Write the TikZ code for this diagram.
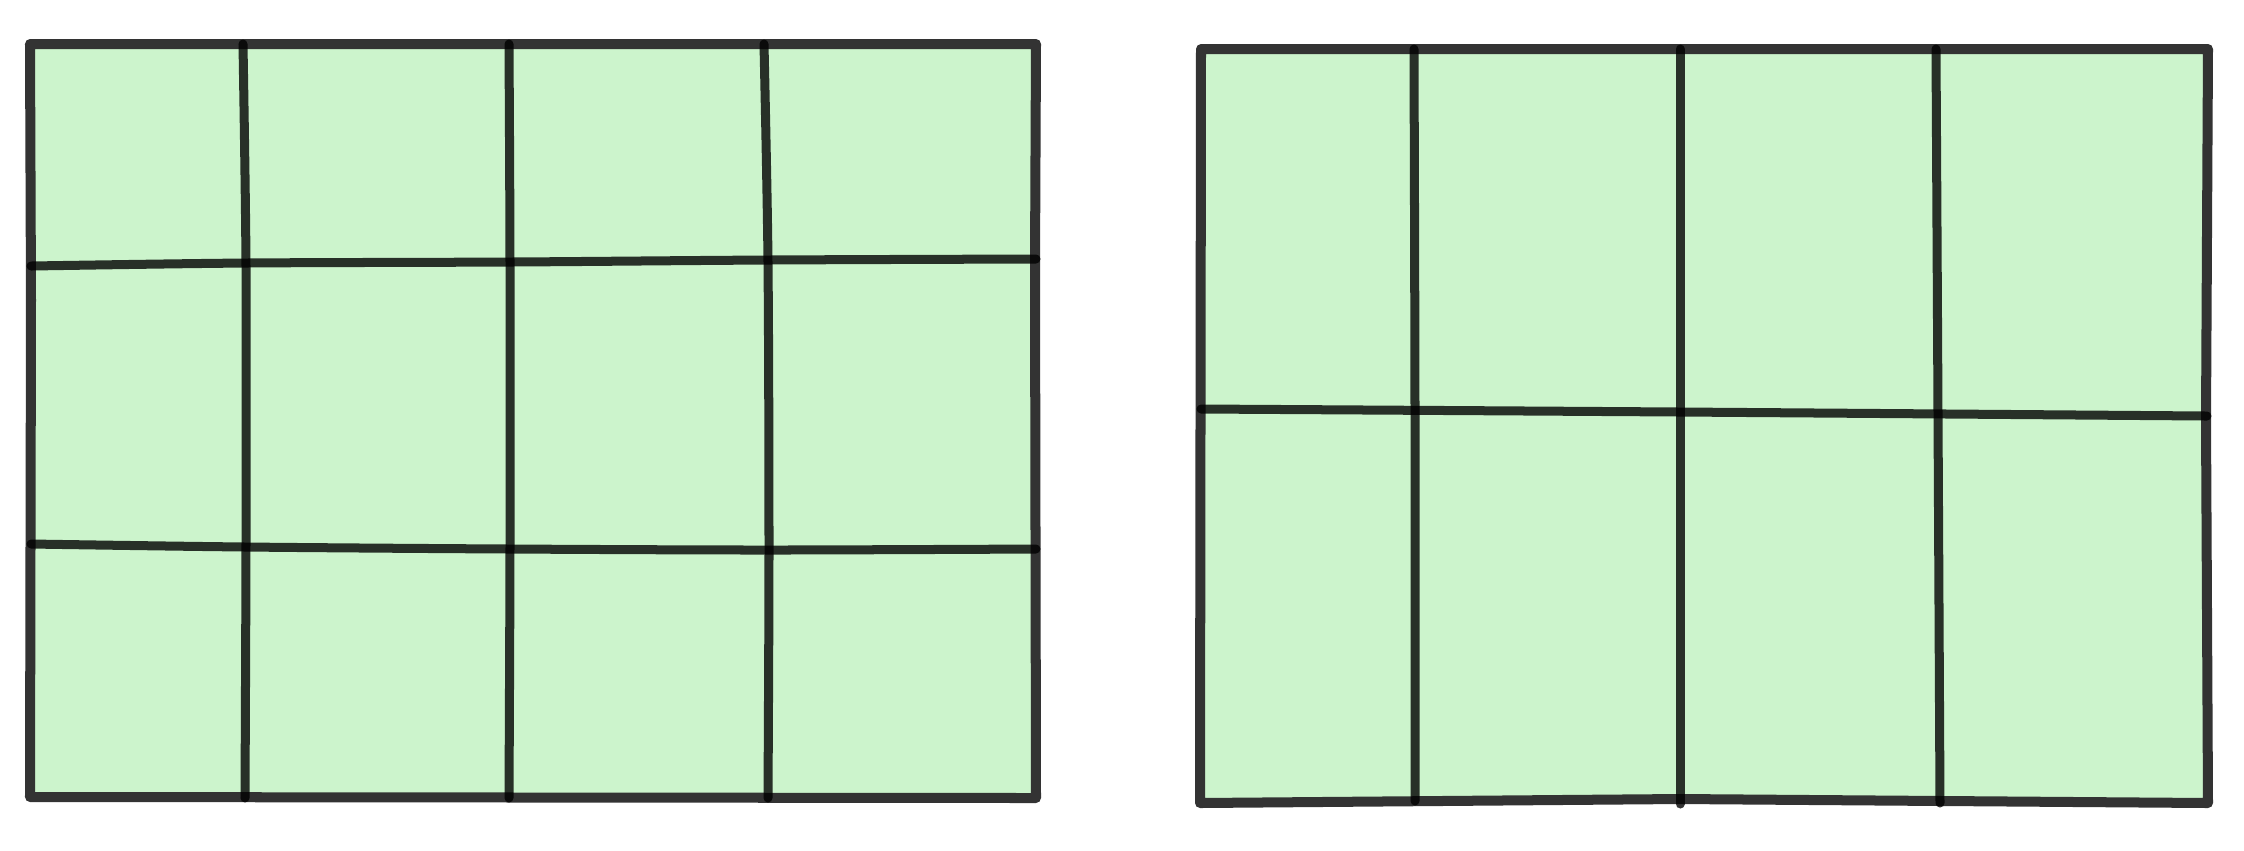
\documentclass[tikz,border=0pt]{standalone}
\usepackage{tikz}
\definecolor{mint}{HTML}{CCF4CC}
\definecolor{frameGray}{HTML}{333333}

\begin{document}
\begin{tikzpicture}[x=0.01cm,y=-0.01cm,
	outer/.style={line width=0.1cm, draw=frameGray, fill=mint, line join=round, line cap=round},
	inner/.style={line width=0.09cm, draw=black, draw opacity=0.8, line cap=round}]
	\useasboundingbox (0,0) rectangle (2244,850);
	
	%left sheet
	\draw[outer] (30,44)--(1036,44)--(1035,266)--(1036,798)--(30,797)--(31,300)--cycle;
	\draw[inner] plot[smooth] coordinates {(243,44) (246,266) (246,544) (245,798)};
	\draw[inner] plot[smooth] coordinates {(509,44) (510,262) (510,547) (509,798)};
	\draw[inner] plot[smooth] coordinates {(764,44) (768,262) (769,548) (768,798)};
	\draw[inner] plot[smooth] coordinates {(31,266) (246,263) (510,262) (768,260) (1036,259)};
	\draw[inner] plot[smooth] coordinates {(31,544) (246,547) (510,549) (768,550) (1036,549)};
	
	%right sheet
	\draw[outer] (1201,49)--(2208,49)--(2206,420)--(2208,803)--(1680,799)--(1200,803)--cycle;
	\draw[inner] plot[smooth] coordinates {(1414,49) (1415,409) (1415,801)};
	\draw[inner] plot[smooth] coordinates {(1680,49) (1680,411) (1680,804)};
	\draw[inner] plot[smooth] coordinates {(1936,49) (1938,413) (1940,803)};
	\draw[inner] plot[smooth] coordinates {(1201,409) (1680,412) (2207,416)};
	%\draw[help lines,step=100] (0,0) grid (2244,850);
\end{tikzpicture}
\end{document}
